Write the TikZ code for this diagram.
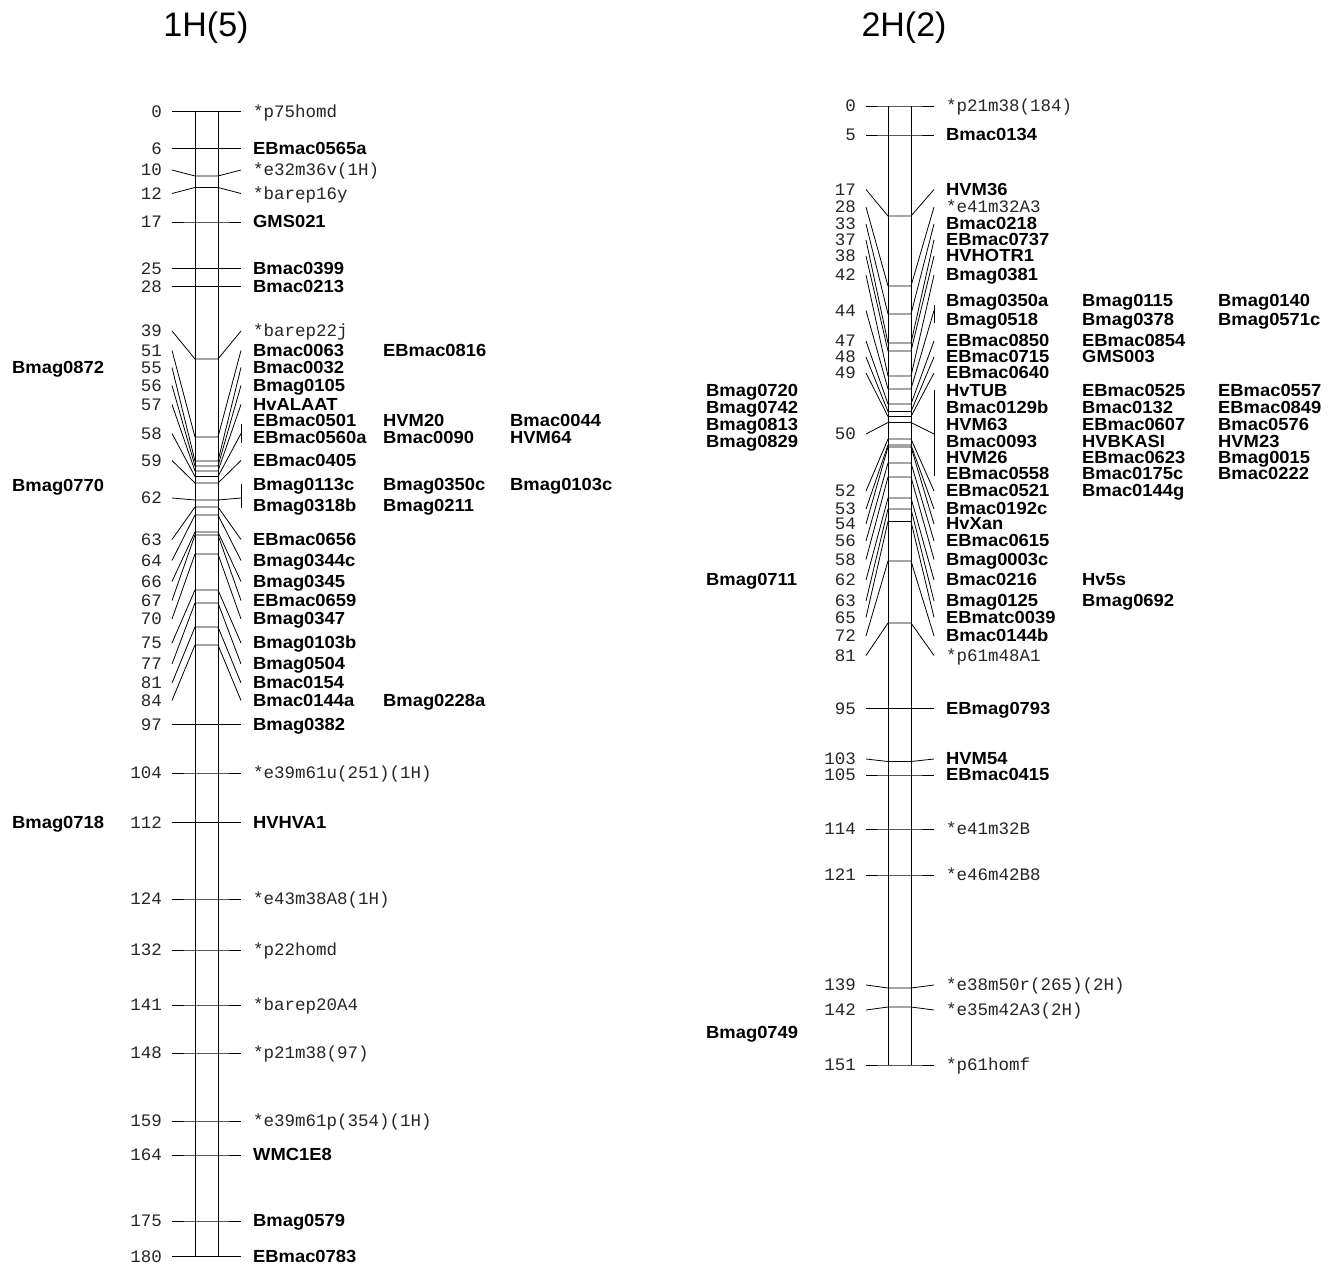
\documentclass[tikz,border=0pt]{standalone}
\usepackage{fontspec}
\setmainfont{Liberation Sans}
\newfontfamily\boldf[FakeStretch=1.05]{Liberation Sans}
\newfontfamily\monof{Liberation Mono}
\tikzset{
  conn/.style={line width=0.8pt},
  bar/.style={line width=0.8pt},
  bl/.style={anchor=base west, inner sep=0pt, font=\boldf\bfseries\fontsize{17.5}{18}\selectfont},
  th/.style={anchor=base west, inner sep=0pt, text=black!85, font=\monof\fontsize{17.5}{18}\selectfont},
  num/.style={anchor=base east, inner sep=0pt, text=black!85, font=\monof\fontsize{17.5}{18}\selectfont},
  ttl/.style={anchor=base, inner sep=0pt, font=\fontsize{34}{36}\selectfont}
}
% marker on 1H: number, bar y, label y
\newcommand\mkL[3]{\draw[conn] (172,#3) -- (195,#2) -- (218,#2) -- (241,#3); \node[num] (na#1) at (162,{#3+5.8}) {#1};}
% marker on 2H
\newcommand\mkR[3]{\draw[conn] (866,#3) -- (888,#2) -- (911,#2) -- (934,#3); \node[num] (nb#1) at (856,{#3+5.8}) {#1};}
\newcommand\Bl[3]{\node[bl] at (#1,{#2+5.6}) {#3};}
\newcommand\Th[3]{\node[th] at (#1,{#2+5.8}) {#3};}
\begin{document}
\begin{tikzpicture}[x=1pt,y=-1pt]
\fill[white] (0,0) rectangle (1334,1265);
\useasboundingbox (0,0) rectangle (1334,1265);
% titles
\node[ttl] (t1) at (206,37) {1H(5)};
\node[ttl] (t2) at (904,37) {2H(2)};
% ---------------- 1H ----------------
\draw[bar] (195,111.5) -- (195,1256.5);
\draw[bar] (218,111.5) -- (218,1256.5);
\mkL{0}{111.5}{111.5} \Th{253}{111.5}{*p75homd}
\mkL{6}{148.5}{148.5} \Bl{253}{148.5}{EBmac0565a}
\mkL{10}{176}{170} \Th{253}{170}{*e32m36v(1H)}
\mkL{12}{187.5}{193.5} \Th{253}{193.5}{*barep16y}
\mkL{17}{222}{222} \Bl{253}{222}{GMS021}
\mkL{25}{268.5}{268.5} \Bl{253}{268.5}{Bmac0399}
\mkL{28}{286.5}{286.5} \Bl{253}{286.5}{Bmac0213}
\mkL{39}{359}{331} \Th{253}{331}{*barep22j}
\mkL{51}{437}{350.5} \Bl{253}{350.5}{Bmac0063} \Bl{383}{350.5}{EBmac0816}
\mkL{55}{461}{367.5} \Bl{253}{367.5}{Bmac0032}
\mkL{56}{466}{385.5} \Bl{253}{385.5}{Bmag0105}
\mkL{57}{471}{404.5} \Bl{253}{404.5}{HvALAAT}
\mkL{58}{476.5}{433.5}
\draw[conn] (241,424) -- (241,443);
\Bl{253}{421}{EBmac0501} \Bl{383}{421}{HVM20} \Bl{510}{421}{Bmac0044}
\Bl{253}{438}{EBmac0560a} \Bl{383}{438}{Bmac0090} \Bl{510}{438}{HVM64}
\mkL{59}{483}{460.5} \Bl{253}{460.5}{EBmac0405}
\mkL{62}{500}{498}
\draw[conn] (241,484) -- (241,508);
\Bl{253}{484.5}{Bmag0113c} \Bl{383}{484.5}{Bmag0350c} \Bl{510}{484.5}{Bmag0103c}
\Bl{253}{505.5}{Bmag0318b} \Bl{383}{505.5}{Bmag0211}
\mkL{63}{507}{539.5} \Bl{253}{539.5}{EBmac0656}
\mkL{64}{515}{560.5} \Bl{253}{560.5}{Bmag0344c}
\mkL{66}{532}{581.5} \Bl{253}{581.5}{Bmag0345}
\mkL{67}{535}{600.5} \Bl{253}{600.5}{EBmac0659}
\mkL{70}{554}{619} \Bl{253}{619}{Bmag0347}
\mkL{75}{590}{643} \Bl{253}{643}{Bmag0103b}
\mkL{77}{603}{664} \Bl{253}{664}{Bmag0504}
\mkL{81}{627}{683} \Bl{253}{683}{Bmac0154}
\mkL{84}{645}{700.5} \Bl{253}{700.5}{Bmac0144a} \Bl{383}{700.5}{Bmag0228a}
\mkL{97}{724.5}{724.5} \Bl{253}{724.5}{Bmag0382}
\mkL{104}{773}{773} \Th{253}{773}{*e39m61u(251)(1H)}
\mkL{112}{822.5}{822.5} \Bl{253}{822.5}{HVHVA1}
\mkL{124}{899}{899} \Th{253}{899}{*e43m38A8(1H)}
\mkL{132}{950}{950} \Th{253}{950}{*p22homd}
\mkL{141}{1005}{1005} \Th{253}{1005}{*barep20A4}
\mkL{148}{1053}{1053} \Th{253}{1053}{*p21m38(97)}
\mkL{159}{1121}{1121} \Th{253}{1121}{*e39m61p(354)(1H)}
\mkL{164}{1155}{1155} \Bl{253}{1155}{WMC1E8}
\mkL{175}{1221}{1221} \Bl{253}{1221}{Bmag0579}
\mkL{180}{1256.5}{1256.5} \Bl{253}{1256.5}{EBmac0783}
\Bl{12}{368}{Bmag0872}
\Bl{12}{486}{Bmag0770}
\Bl{12}{822.5}{Bmag0718}
% ---------------- 2H ----------------
\draw[bar] (888,106) -- (888,1065);
\draw[bar] (911,106) -- (911,1065);
\mkR{0}{106}{106} \Th{946}{106}{*p21m38(184)}
\mkR{5}{135}{135} \Bl{946}{135}{Bmac0134}
\mkR{17}{216}{189.5} \Bl{946}{189.5}{HVM36}
\mkR{28}{286}{207} \Th{946}{207}{*e41m32A3}
\mkR{33}{314}{224} \Bl{946}{224}{Bmac0218}
\mkR{37}{343}{240} \Bl{946}{240}{EBmac0737}
\mkR{38}{351}{256} \Bl{946}{256}{HVHOTR1}
\mkR{42}{376}{275} \Bl{946}{275}{Bmag0381}
\mkR{44}{389}{310.5}
\draw[conn] (934,305) -- (934,323);
\Bl{946}{300.5}{Bmag0350a} \Bl{1082}{300.5}{Bmag0115} \Bl{1218}{300.5}{Bmag0140}
\Bl{946}{319.5}{Bmag0518} \Bl{1082}{319.5}{Bmag0378} \Bl{1218}{319.5}{Bmag0571c}
\mkR{47}{404}{341} \Bl{946}{341}{EBmac0850} \Bl{1082}{341}{EBmac0854}
\mkR{48}{411.5}{357} \Bl{946}{357}{EBmac0715} \Bl{1082}{357}{GMS003}
\mkR{49}{416.5}{373} \Bl{946}{373}{EBmac0640}
\mkR{50}{422.5}{434}
\draw[conn] (934,390) -- (934,476);
\Bl{946}{391}{HvTUB} \Bl{1082}{391}{EBmac0525} \Bl{1218}{391}{EBmac0557}
\Bl{946}{408}{Bmac0129b} \Bl{1082}{408}{Bmac0132} \Bl{1218}{408}{EBmac0849}
\Bl{946}{425}{HVM63} \Bl{1082}{425}{EBmac0607} \Bl{1218}{425}{Bmac0576}
\Bl{946}{441.5}{Bmac0093} \Bl{1082}{441.5}{HVBKASI} \Bl{1218}{441.5}{HVM23}
\Bl{946}{458}{HVM26} \Bl{1082}{458}{EBmac0623} \Bl{1218}{458}{Bmag0015}
\Bl{946}{473.5}{EBmac0558} \Bl{1082}{473.5}{Bmac0175c} \Bl{1218}{473.5}{Bmac0222}
\Bl{706}{391}{Bmag0720}
\Bl{706}{408}{Bmag0742}
\Bl{706}{425}{Bmag0813}
\Bl{706}{441.5}{Bmag0829}
\mkR{52}{439}{491} \Bl{946}{491}{EBmac0521} \Bl{1082}{491}{Bmac0144g}
\mkR{53}{445}{509} \Bl{946}{509}{Bmac0192c}
\mkR{54}{447}{524} \Bl{946}{524}{HvXan}
\mkR{56}{463}{541} \Bl{946}{541}{EBmac0615}
\mkR{58}{477}{559.5} \Bl{946}{559.5}{Bmag0003c}
\mkR{62}{498}{580} \Bl{946}{580}{Bmac0216} \Bl{1082}{580}{Hv5s}
\Bl{706}{580}{Bmag0711}
\mkR{63}{509}{601} \Bl{946}{601}{Bmag0125} \Bl{1082}{601}{Bmag0692}
\mkR{65}{521.5}{617.5} \Bl{946}{617.5}{EBmatc0039}
\mkR{72}{561}{636} \Bl{946}{636}{Bmac0144b}
\mkR{81}{623}{655.5} \Th{946}{655.5}{*p61m48A1}
\mkR{95}{708.5}{708.5} \Bl{946}{708.5}{EBmag0793}
\mkR{103}{761.5}{759} \Bl{946}{759}{HVM54}
\mkR{105}{775}{775} \Bl{946}{775}{EBmac0415}
\mkR{114}{829}{829} \Th{946}{829}{*e41m32B}
\mkR{121}{875}{875} \Th{946}{875}{*e46m42B8}
\mkR{139}{988}{985} \Th{946}{985}{*e38m50r(265)(2H)}
\mkR{142}{1007}{1010} \Th{946}{1010}{*e35m42A3(2H)}
\mkR{151}{1065}{1065} \Th{946}{1065}{*p61homf}
\Bl{706}{1033}{Bmag0749}
\end{tikzpicture}
\end{document}
